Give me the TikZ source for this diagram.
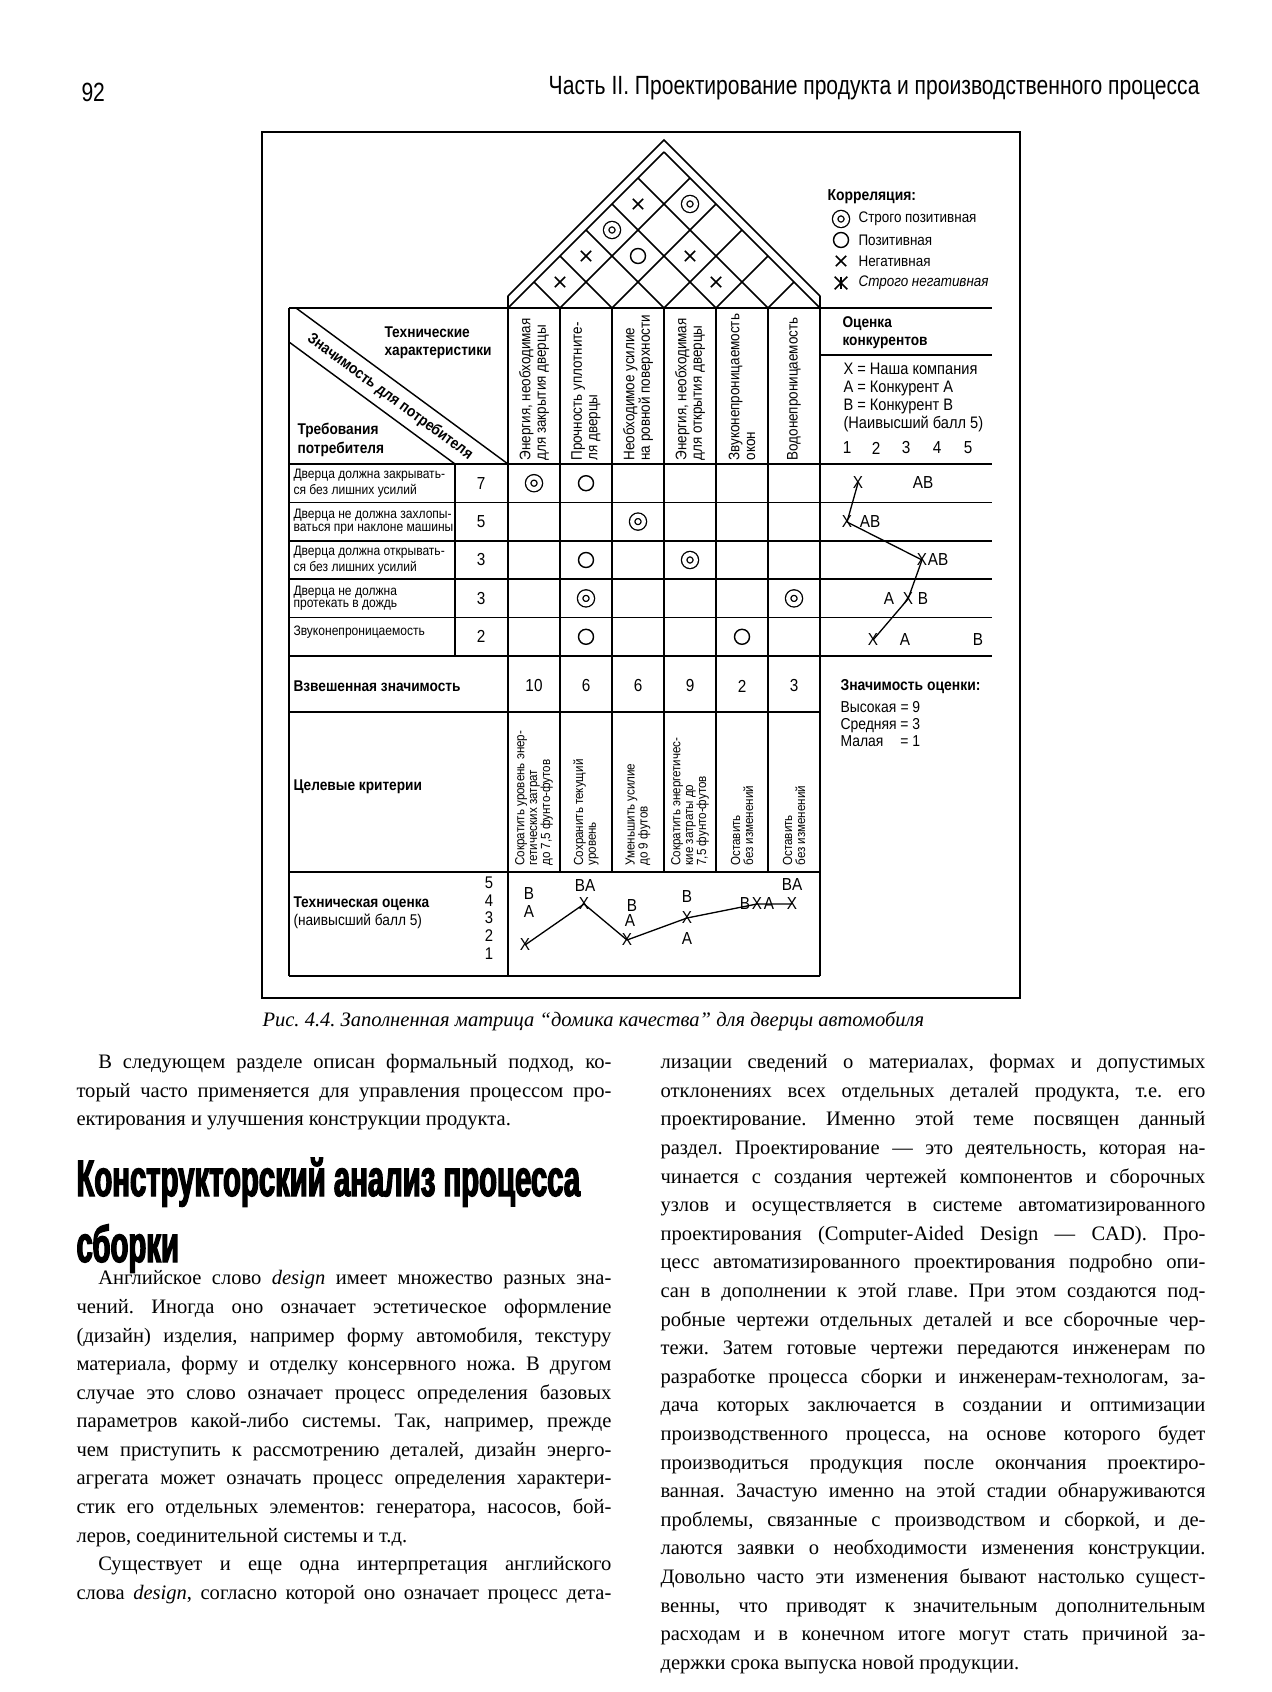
\documentclass[tikz,border=0pt]{standalone}
\usepackage{fontspec}
\setmainfont{Liberation Serif}
\newfontfamily\dsans[FakeStretch=0.88]{Liberation Sans}
\newfontfamily\hsans[FakeStretch=0.80]{Liberation Sans}
\newfontfamily\headfont[FakeStretch=0.57,FakeBold=2.5]{Liberation Sans}
\usetikzlibrary{positioning,calc,shapes.misc}
\frenchspacing

% one picture unit = one pixel of the page scan
\tikzset{
  grid/.style={line width=0.55pt},
  rowlbl/.style={font=\dsans\fontsize{5.2}{4.7}\selectfont,anchor=west,align=left,inner sep=0pt},
  colhd/.style={font=\dsans\fontsize{5.8}{5.9}\selectfont,rotate=90,anchor=west,align=left,inner sep=0pt},
  tgt/.style={font=\dsans\fontsize{5.0}{4.9}\selectfont,rotate=90,anchor=west,align=left,inner sep=0pt},
  blbl/.style={font=\dsans\bfseries\fontsize{5.9}{6.9}\selectfont,anchor=west,align=left,inner sep=0pt},
  lgd/.style={font=\dsans\fontsize{5.8}{6.4}\selectfont,anchor=west,align=left,inner sep=0pt},
  wnum/.style={font=\dsans\fontsize{6.6}{7}\selectfont,inner sep=0pt},
  mk/.style={font=\dsans\fontsize{6.6}{7}\selectfont,inner sep=0pt},
  spos/.style={circle,draw,double,double distance=0.055cm,line width=0.5pt,minimum size=0.155cm,inner sep=0pt},
  wpos/.style={circle,draw,line width=0.55pt,minimum size=0.2cm,inner sep=0pt},
  wneg/.style={cross out,draw,line width=0.55pt,minimum size=0.12cm,inner sep=0pt},
  bodytxt/.style={font=\fontsize{7.8}{10.85}\selectfont,anchor=north west,align=left,inner sep=0pt},
}
\newcommand\jlL[1]{\makebox[7.133cm][s]{#1}}
\newcommand\jlR[1]{\makebox[7.267cm][s]{#1}}

\begin{document}
\begin{tikzpicture}[x=0.013333cm,y=-0.013333cm]
\fill[white] (0,0) rectangle (1272,1692);
\useasboundingbox (0,0) rectangle (1272,1692);

% running head
\node[anchor=west,font=\hsans\fontsize{10}{12}\selectfont,inner sep=0pt] (pgno) at (81,92) {92};
\node[anchor=east,font=\hsans\fontsize{10}{12}\selectfont,inner sep=0pt] (runhd) at (1200,88) {Часть II. Проектирование продукта и производственного процесса};

% frame
\draw[line width=0.7pt] (262,132) rectangle (1020,998);

% roof
\draw[grid] (508,308) -- (508,296) -- (664,140) -- (820,296) -- (820,308);
\foreach \k in {0,...,5}
  \draw[grid] ({508+52*\k},308) -- ++({156-26*\k},{-(156-26*\k)});
\foreach \k in {1,...,6}
  \draw[grid] ({508+52*\k},308) -- ++({-26*\k},{-26*\k});
\foreach \x/\y in {560/282,586/256,638/204,690/256,716/282}
  \node[wneg] (rn-\x-\y) at (\x,\y) {};
\node[spos] (rs1) at (612,230) {};
\node[spos] (rs2) at (690,204) {};
\node[wpos] (rp1) at (638,256) {};

% legend
\node[lgd,font=\dsans\bfseries\fontsize{6}{7}\selectfont] (corr) at (827,197) {Корреляция:};
\node[spos] (lg1) at (841,219) {};
\node[wpos] (lg2) at (841,240) {};
\node[wneg] (lg3) at (841,261) {};
\node[wneg,minimum size=0.15cm] (lg4) at (841,283) {};
\draw[line width=0.55pt] (lg4.north) -- (lg4.south);
\node[lgd] (lt1) at (858,219) {Строго позитивная};
\node[lgd] (lt2) at (858,240) {Позитивная};
\node[lgd] (lt3) at (858,261) {Негативная};
\node[lgd] (lt4) at (858,283) {\itshape Строго негативная};

% grid lines
\draw[grid] (289,308) -- (992,308);
\draw[grid] (820,355) -- (992,355);
\foreach \k in {0,...,5}
  \draw[grid] (289,{464+38.4*\k}) -- (992,{464+38.4*\k});
\draw[grid] (289,712) -- (820,712);
\draw[grid] (289,872) -- (820,872);
\draw[grid] (289,976) -- (820,976);
\draw[grid] (289,308) -- (289,976);
\draw[grid] (455,464) -- (455,656);
\draw[grid] (508,296) -- (508,976);
\draw[grid] (820,296) -- (820,976);
\foreach \i in {1,...,5}
  \draw[grid] ({508+52*\i},308) -- ({508+52*\i},872);
\draw[grid] (296,308) -- (508,464);
\draw[grid] (289,342) -- (455,464);

% header cell
\node[blbl] (techhd) at (384,343) {Технические\\характеристики};
\node[blbl] (reqhd) at (297,440) {Требования\\потребителя};
\node[blbl,rotate=-36.3,anchor=center] (imphd) at (390,397) {Значимость для потребителя};

% technical characteristics
\foreach \i/\t in {1/{Энергия, необходимая\\для закрытия дверцы},
                   2/{Прочность уплотните-\\ля дверцы},
                   3/{Необходимое усилие\\на ровной поверхности},
                   4/{Энергия, необходимая\\для открытия дверцы},
                   5/{Звуконепроницаемость\\окон},
                   6/{Водонепроницаемость}}
  \node[colhd] (ch\i) at ({482+52*\i},461) {\t};

% customer requirements
\node[rowlbl] (rq1) at (293,483.2) {Дверца должна закрывать-\\ся без лишних усилий};
\node[rowlbl] (rq2) at (293,521.6) {Дверца не должна захлопы-\\ваться при наклоне машины};
\node[rowlbl] (rq3) at (293,560) {Дверца должна открывать-\\ся без лишних усилий};
\node[rowlbl] (rq4) at (293,598.4) {Дверца не должна\\протекать в дождь};
\node[rowlbl] (rq5) at (293,632) {Звуконепроницаемость};
\foreach \k/\w in {1/7,2/5,3/3,4/3,5/2}
  \node[wnum] (wt\k) at (481,{464+38.4*(\k-0.5)}) {\w};

% relationship matrix
\node[spos] (m11) at (534,483.2) {};
\node[wpos] (m12) at (586,483.2) {};
\node[spos] (m23) at (638,521.6) {};
\node[wpos] (m32) at (586,560) {};
\node[spos] (m34) at (690,560) {};
\node[spos] (m42) at (586,598.4) {};
\node[spos] (m46) at (794,598.4) {};
\node[wpos] (m52) at (586,636.8) {};
\node[wpos] (m55) at (742,636.8) {};

% weighted importance
\node[blbl] (wtlbl) at (293,686) {Взвешенная значимость};
\foreach \i/\v in {1/10,2/6,3/6,4/9,5/2,6/3}
  \node[wnum] (wv\i) at ({482+52*\i},686) {\v};

% target values
\node[blbl] (tglbl) at (293,787) {Целевые критерии};
\foreach \i/\t in {1/{Сократить уровень энер-\\гетических затрат\\до 7,5 фунто-футов},
                   2/{Сохранить текущий\\уровень},
                   3/{Уменьшить усилие\\до 9 футов},
                   4/{Сократить энергетичес-\\кие затраты до\\7,5 фунто-футов},
                   5/{Оставить\\без изменений},
                   6/{Оставить\\без изменений}}
  \node[tgt] (tg\i) at ({482+52*\i},866) {\t};

% technical evaluation
\node[lgd,font=\dsans\fontsize{5.9}{7}\selectfont] (tclbl) at (293,913) {\textbf{Техническая оценка}\\(наивысший балл 5)};
\node[wnum,align=center,font=\dsans\fontsize{6.4}{6.75}\selectfont] (tscale) at (489,918) {5\\4\\3\\2\\1};
\node[mk] (tb1) at (529,894) {B};
\node[mk] (ta1) at (529,912) {A};
\node[mk] (tx1) at (525,945) {X};
\node[mk] (tba2) at (585,886) {BA};
\node[mk] (tx2) at (584,904) {X};
\node[mk] (tb3) at (632,906) {B};
\node[mk] (ta3) at (630,921) {A};
\node[mk] (tx3) at (627,940) {X};
\node[mk] (tb4) at (687,897) {B};
\node[mk] (tx4) at (687,918) {X};
\node[mk] (ta4) at (687,939) {A};
\node[mk] (tb5) at (745,904) {B};
\node[mk] (tx5) at (757,904) {X};
\node[mk] (ta5) at (769,904) {A};
\node[mk] (tba6) at (792,885) {BA};
\node[mk] (tx6) at (792,904) {X};
\draw[line width=0.5pt] (tx1.center) -- (tx2.center) -- (tx3.center) -- (tx4.center) -- (tx5.center) -- (tx6.center);

% competitive assessment
\node[blbl] (cmphd) at (842,332.5) {Оценка\\конкурентов};
\node[lgd,font=\dsans\fontsize{6.3}{6.95}\selectfont] (cmpkey) at (843,397.5) {X = Наша компания\\A = Конкурент A\\B = Конкурент B\\(Наивысший балл 5)};
\foreach \n/\x in {1/847,2/876,3/906,4/937,5/968}
  \node[wnum] (cs\n) at (\x,448) {\n};
\node[mk] (cx1) at (858,483) {X};
\node[mk] (ca1) at (923,483) {AB};
\node[mk] (cx2) at (847,522) {X};
\node[mk] (ca2) at (870,522) {AB};
\node[mk] (cx3) at (922,560) {X};
\node[mk] (ca3) at (938,560) {AB};
\node[mk] (ca4) at (889,599) {A};
\node[mk] (cx4) at (908,599) {X};
\node[mk] (cb4) at (923,599) {B};
\node[mk] (cx5) at (873,640) {X};
\node[mk] (ca5) at (905,640) {A};
\node[mk] (cb5) at (978,640) {B};
\draw[line width=0.5pt] (cx1.center) -- (cx2.center) -- (cx3.center) -- (cx4.center) -- (cx5.center);

% importance weights
\node[blbl,font=\dsans\bfseries\fontsize{6}{7}\selectfont] (implbl) at (840,687) {Значимость оценки:};
\node[lgd,font=\dsans\fontsize{6}{6.5}\selectfont] (impkey) at (840,726) {\begin{tabular}{@{}l@{\ }l@{}}Высокая & = 9\\Средняя & = 3\\Малая & = 1\end{tabular}};

% caption
\node[anchor=west,font=\itshape\fontsize{7.8}{9}\selectfont,inner sep=0pt] (cap) at (262,1021) {Рис. 4.4. Заполненная матрица “домика качества” для дверцы автомобиля};

% body text, left column
\node[bodytxt] (lp1) at (76,1054) {\jlL{\hspace*{0.29cm}В следующем разделе описан формальный подход, ко-}\\
\jlL{торый часто применяется для управления процессом про-}\\
ектирования и улучшения конструкции продукта.};
\node[anchor=base west,font=\headfont\bfseries\fontsize{19.5}{20}\selectfont,inner sep=0pt] (sec1) at (76,1196) {Конструкторский анализ процесса};
\node[anchor=base west,font=\headfont\bfseries\fontsize{19.5}{20}\selectfont,inner sep=0pt] (sec2) at (76,1262) {сборки};
\node[bodytxt] (lp2) at (76,1270) {\jlL{\hspace*{0.29cm}Английское слово \textit{design} имеет множество разных зна-}\\
\jlL{чений. Иногда оно означает эстетическое оформление}\\
\jlL{(дизайн) изделия, например форму автомобиля, текстуру}\\
\jlL{материала, форму и отделку консервного ножа. В другом}\\
\jlL{случае это слово означает процесс определения базовых}\\
\jlL{параметров какой-либо системы. Так, например, прежде}\\
\jlL{чем приступить к рассмотрению деталей, дизайн энерго-}\\
\jlL{агрегата может означать процесс определения характери-}\\
\jlL{стик его отдельных элементов: генератора, насосов, бой-}\\
леров, соединительной системы и т.д.\\
\jlL{\hspace*{0.29cm}Существует и еще одна интерпретация английского}\\
\jlL{слова \textit{design}, согласно которой оно означает процесс дета-}};

% body text, right column
\node[bodytxt] (rp1) at (660,1054) {\jlR{лизации сведений о материалах, формах и допустимых}\\
\jlR{отклонениях всех отдельных деталей продукта, т.е. его}\\
\jlR{проектирование. Именно этой теме посвящен данный}\\
\jlR{раздел. Проектирование — это деятельность, которая на-}\\
\jlR{чинается с создания чертежей компонентов и сборочных}\\
\jlR{узлов и осуществляется в системе автоматизированного}\\
\jlR{проектирования (Computer-Aided Design — CAD). Про-}\\
\jlR{цесс автоматизированного проектирования подробно опи-}\\
\jlR{сан в дополнении к этой главе. При этом создаются под-}\\
\jlR{робные чертежи отдельных деталей и все сборочные чер-}\\
\jlR{тежи. Затем готовые чертежи передаются инженерам по}\\
\jlR{разработке процесса сборки и инженерам-технологам, за-}\\
\jlR{дача которых заключается в создании и оптимизации}\\
\jlR{производственного процесса, на основе которого будет}\\
\jlR{производиться продукция после окончания проектиро-}\\
\jlR{ванная. Зачастую именно на этой стадии обнаруживаются}\\
\jlR{проблемы, связанные с производством и сборкой, и де-}\\
\jlR{лаются заявки о необходимости изменения конструкции.}\\
\jlR{Довольно часто эти изменения бывают настолько сущест-}\\
\jlR{венны, что приводят к значительным дополнительным}\\
\jlR{расходам и в конечном итоге могут стать причиной за-}\\
держки срока выпуска новой продукции.};
\end{tikzpicture}
\end{document}
